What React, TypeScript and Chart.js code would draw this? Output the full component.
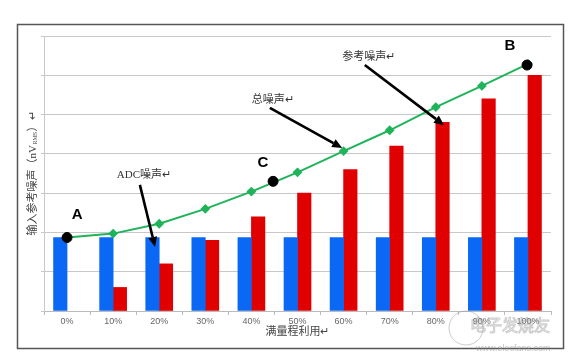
import React, { useEffect, useRef } from "react";
import { Chart, registerables } from "chart.js";
Chart.register(...registerables);

const categories = ["0%", "10%", "20%", "30%", "40%", "50%", "60%", "70%", "80%", "90%", "100%"];
const adcNoise = [1.87, 1.87, 1.87, 1.87, 1.87, 1.87, 1.87, 1.87, 1.87, 1.87, 1.87];
const refNoise = [null, 0.6, 1.2, 1.8, 2.4, 3.0, 3.6, 4.2, 4.8, 5.4, 6.0];
const totalNoise = [1.87, 1.97, 2.22, 2.6, 3.04, 3.53, 4.07, 4.6, 5.19, 5.73, 6.29];
const keyPoints = [
  { x: 0, y: 1.87 },
  { x: 4.47, y: 3.3 },
  { x: 9.98, y: 6.26 },
];
const pointLabels = [
  { text: "A", x: 0.22, y: 2.44 },
  { text: "C", x: 4.25, y: 3.77 },
  { text: "B", x: 9.61, y: 6.74 },
];
const noteLabels = [
  { text: "ADC噪声↵", x: 1.08, y: 3.46 },
  { text: "总噪声↵", x: 4.01, y: 5.37 },
  { text: "参考噪声↵", x: 5.97, y: 6.46 },
];
const arrows = [
  { x1: 1.58, y1: 3.21, x2: 1.91, y2: 1.63 },
  { x1: 4.4, y1: 5.17, x2: 5.97, y2: 4.15 },
  { x1: 6.46, y1: 6.26, x2: 8.18, y2: 4.73 },
];
const xTitle = "满量程利用↵";
const yTitleMain = "输入参考噪声（nV";
const yTitleSub = "RMS";
const yTitleEnd = "）↵";

const CJK = '"Liberation Serif", "Noto Sans CJK SC", serif';

const overlayPlugin = {
  id: "overlay",
  afterDraw(chart: any) {
    const ctx = chart.ctx as CanvasRenderingContext2D;
    const xs = chart.scales.xl;
    const ys = chart.scales.y;
    const area = chart.chartArea;
    ctx.save();

    // frame
    ctx.strokeStyle = "#555";
    ctx.lineWidth = 1.5;
    ctx.strokeRect(17.5, 24.5, 546, 324);

    // arrows
    ctx.strokeStyle = "#000";
    ctx.fillStyle = "#000";
    ctx.lineWidth = 2.6;
    for (const a of arrows) {
      const px1 = xs.getPixelForValue(a.x1);
      const py1 = ys.getPixelForValue(a.y1);
      const px2 = xs.getPixelForValue(a.x2);
      const py2 = ys.getPixelForValue(a.y2);
      const ang = Math.atan2(py2 - py1, px2 - px1);
      const hl = 10;
      const hw = 4.5;
      const bx = px2 - hl * Math.cos(ang);
      const by = py2 - hl * Math.sin(ang);
      ctx.beginPath();
      ctx.moveTo(px1, py1);
      ctx.lineTo(bx, by);
      ctx.stroke();
      ctx.beginPath();
      ctx.moveTo(px2, py2);
      ctx.lineTo(bx + hw * Math.sin(ang), by - hw * Math.cos(ang));
      ctx.lineTo(bx - hw * Math.sin(ang), by + hw * Math.cos(ang));
      ctx.closePath();
      ctx.fill();
    }

    // point labels A B C
    ctx.font = 'bold 15px "Liberation Sans", Arial, sans-serif';
    ctx.textAlign = "center";
    ctx.textBaseline = "middle";
    ctx.fillStyle = "#000";
    for (const l of pointLabels) {
      ctx.fillText(l.text, xs.getPixelForValue(l.x), ys.getPixelForValue(l.y));
    }

    // note labels
    ctx.font = "11px " + CJK;
    ctx.textAlign = "left";
    ctx.fillStyle = "#333";
    for (const l of noteLabels) {
      ctx.fillText(l.text, xs.getPixelForValue(l.x), ys.getPixelForValue(l.y));
    }

    // x title
    ctx.textAlign = "center";
    ctx.fillStyle = "#444";
    ctx.font = "11px " + CJK;
    ctx.fillText(xTitle, (area.left + area.right) / 2, 332);

    // y title (rotated)
    ctx.save();
    ctx.translate(33, (area.top + area.bottom) / 2);
    ctx.rotate(-Math.PI / 2);
    ctx.textAlign = "left";
    ctx.font = "11px " + CJK;
    const w1 = ctx.measureText(yTitleMain).width;
    const w3 = ctx.measureText(yTitleEnd).width;
    ctx.font = "6px " + CJK;
    const w2 = ctx.measureText(yTitleSub).width + 1;
    const total = w1 + w2 + w3;
    let cx = -total / 2;
    ctx.font = "11px " + CJK;
    ctx.fillText(yTitleMain, cx, 0);
    cx += w1;
    ctx.font = "6px " + CJK;
    ctx.fillText(yTitleSub, cx + 0.5, 2);
    cx += w2;
    ctx.font = "11px " + CJK;
    ctx.fillText(yTitleEnd, cx, 0);
    ctx.restore();

    // watermark
    ctx.globalAlpha = 0.5;
    ctx.strokeStyle = "#999";
    ctx.lineWidth = 1;
    ctx.beginPath();
    ctx.arc(466, 328, 17, 0, Math.PI * 2);
    ctx.stroke();
    ctx.font = '16px "Noto Sans CJK SC", sans-serif';
    ctx.textAlign = "left";
    ctx.strokeText("电子发烧友", 470, 325);
    ctx.font = '9px "Liberation Sans", sans-serif';
    ctx.fillStyle = "#888";
    ctx.fillText("www.elecfans.com", 476, 349);
    ctx.restore();
  },
};

export default function App() {
  const ref = useRef<HTMLCanvasElement | null>(null);
  useEffect(() => {
    if (!ref.current) return;
    const chart = new Chart(ref.current, {
      type: "bar",
      data: {
        labels: categories,
        datasets: [
          {
            type: "line",
            label: "key",
            data: keyPoints,
            xAxisID: "xl",
            showLine: false,
            pointRadius: 5,
            pointBackgroundColor: "#000",
            pointBorderColor: "#000",
            order: -1,
          } as any,
          {
            type: "line",
            label: "总噪声",
            data: totalNoise.map((v, i) => ({ x: i, y: v })),
            xAxisID: "xl",
            borderColor: "#1fb35a",
            borderWidth: 2,
            pointStyle: "rectRot",
            pointRadius: 3.5,
            pointBackgroundColor: "#1fb35a",
            pointBorderColor: "#1fb35a",
            tension: 0,
            order: 0,
          } as any,
          {
            label: "ADC噪声",
            data: adcNoise,
            xAxisID: "x",
            backgroundColor: "#0a68f5",
            barThickness: 13.5,
            order: 1,
          },
          {
            label: "参考噪声",
            data: refNoise,
            xAxisID: "x",
            backgroundColor: "#e00000",
            barThickness: 13.5,
            order: 1,
          },
        ],
      },
      options: {
        animation: false,
        responsive: false,
        maintainAspectRatio: false,
        layout: { padding: { top: 36, right: 23, bottom: 0, left: 0 } },
        plugins: { legend: { display: false }, tooltip: { enabled: false } },
        scales: {
          x: {
            type: "category",
            offset: true,
            grid: { drawOnChartArea: false, drawTicks: true, tickLength: 4, color: "#bbb", offset: true },
            border: { color: "#bbb" },
            ticks: { color: "#666", padding: 1, font: { family: '"Liberation Sans", Arial, sans-serif', size: 9 } },
            afterFit: (s: any) => {
              s.height = 53;
            },
          },
          xl: {
            type: "linear",
            min: -0.5,
            max: 10.5,
            offset: false,
            display: false,
          },
          y: {
            min: 0,
            max: 7,
            ticks: { display: false, stepSize: 1 },
            grid: { color: "#c8c8c8", tickLength: 3 },
            border: { color: "#c8c8c8" },
            afterFit: (s: any) => {
              s.width = 44;
            },
          },
        },
      } as any,
      plugins: [overlayPlugin],
    });
    return () => chart.destroy();
  }, []);
  return (
    <div style={{ position: "fixed", left: 0, top: 0, width: 574, height: 364, background: "#fff" }}>
      <canvas ref={ref} width={574} height={364} style={{ width: 574, height: 364 }} />
    </div>
  );
}
